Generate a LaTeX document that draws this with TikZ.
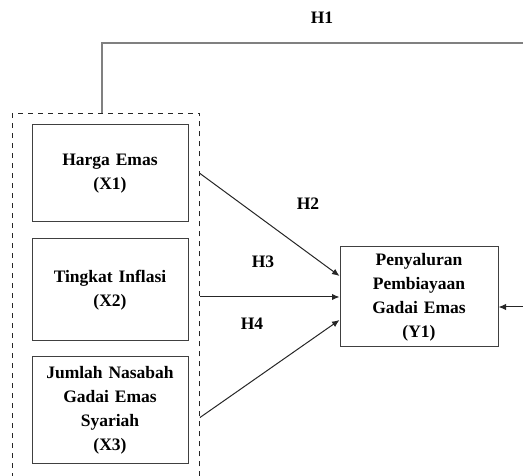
\documentclass[tikz,border=0pt]{standalone}
\usepackage{fontspec}
\setmainfont{Liberation Serif}
\usetikzlibrary{positioning, arrows.meta, calc, fit}

\begin{document}
\begin{tikzpicture}
	% Define styles
	\tikzset{
		var/.style={rectangle, draw=black!75, line width=0.6pt, text width=88pt, align=center, minimum width=93.6pt, inner sep=0pt, font=\fontsize{10.5}{14.4}\selectfont\bfseries},
		group/.style={rectangle, draw=black!85, dashed, line width=0.6pt, inner sep=0pt},
		line/.style={draw=black!85, line width=0.6pt, -{Latex[length=4.5pt,width=3.8pt]}},
		hyp/.style={font=\fontsize{10.5}{12}\selectfont\bfseries}
	}
	\useasboundingbox (0,0) rectangle (313.8pt,-285.6pt);
	
	% Nodes
	\node[var, minimum height=58.2pt] (x1) at (66pt,-104.1pt) {Harga Emas\\(X1)};
	\node[var, minimum height=61.2pt, below=9.6pt of x1] (x2) {Tingkat Inflasi\\(X2)};
	\node[var, minimum height=64.2pt, below=9pt of x2] (x3) {Jumlah Nasabah\\Gadai Emas\\Syariah\\(X3)};
	\node[var, minimum height=60pt, minimum width=94.8pt, right=90.6pt of x2, yshift=-4.2pt] (y1) {Penyaluran\\Pembiayaan\\Gadai Emas\\(Y1)};
	
	\coordinate (gnw) at ($(x1.north west)+(-11.4pt,6.6pt)$);
	\coordinate (gse) at ($(x3.south east)+(6.6pt,-15pt)$);
	\node[group, fit=(gnw)(gse)] (grp) {};
	
	\coordinate (h1s) at ($(grp.north)+(-2.4pt,0)$);
	\coordinate (rt) at (330pt,-25.8pt);
	\coordinate (rb) at ($(rt |- y1.east)+(0,-6pt)$);
	
	% Labels
	\node[hyp] (h1) at (193.2pt,-10.8pt) {H1};
	\node[hyp] (h2) at (184.8pt,-122.4pt) {H2};
	\node[hyp] (h3) at (157.8pt,-157.2pt) {H3};
	\node[hyp] (h4) at (151.2pt,-194.4pt) {H4};
	
	% Arrows
	\draw[black!50, line width=0.8pt] (h1s) |- (rt) -- (rb);
	\draw[line] (rb) -- (rb -| y1.east);
	\draw[line] (grp.east |- x1) -- ($(y1.west)+(0,12.6pt)$);
	\draw[line] (grp.east |- y1.west) -- (y1.west);
	\draw[line] ($(grp.east |- x3)+(0,-4.2pt)$) -- ($(y1.west)+(0,-13.8pt)$);
	
\end{tikzpicture}
\end{document}
